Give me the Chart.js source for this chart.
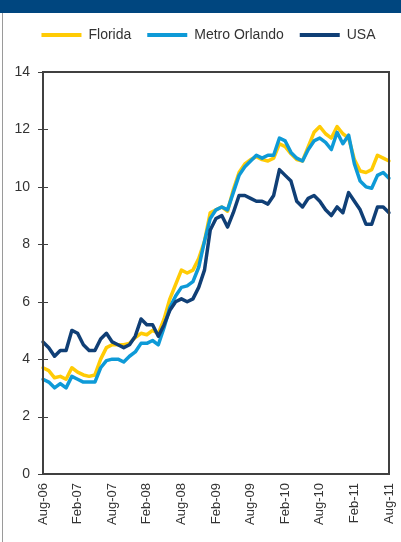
<!DOCTYPE html>
<html>
<head>
<meta charset="utf-8">
<script src="https://cdn.jsdelivr.net/npm/chart.js@4/dist/chart.umd.min.js"></script>
<style>
  body { margin: 0; width: 401px; height: 542px; overflow: hidden; background: #fff; position: relative; }
  #header { position: absolute; left: 0; top: 0; width: 401px; height: 13px; background: #00467f; }
  #edge { position: absolute; left: 2px; top: 13px; width: 1px; height: 529px; background: #9a9a9a; }
  #chart { position: absolute; left: 0; top: 0; }
</style>
</head>
<body>
<div id="header"></div>
<div id="edge"></div>
<canvas id="chart" width="401" height="542"></canvas>
<script>
// months Aug-06 .. Aug-11
const months = [
  'Aug-06','Sep-06','Oct-06','Nov-06','Dec-06',
  'Jan-07','Feb-07','Mar-07','Apr-07','May-07','Jun-07','Jul-07','Aug-07','Sep-07','Oct-07','Nov-07','Dec-07',
  'Jan-08','Feb-08','Mar-08','Apr-08','May-08','Jun-08','Jul-08','Aug-08','Sep-08','Oct-08','Nov-08','Dec-08',
  'Jan-09','Feb-09','Mar-09','Apr-09','May-09','Jun-09','Jul-09','Aug-09','Sep-09','Oct-09','Nov-09','Dec-09',
  'Jan-10','Feb-10','Mar-10','Apr-10','May-10','Jun-10','Jul-10','Aug-10','Sep-10','Oct-10','Nov-10','Dec-10',
  'Jan-11','Feb-11','Mar-11','Apr-11','May-11','Jun-11','Jul-11','Aug-11'
];

const florida = [3.7, 3.6, 3.35, 3.4, 3.3, 3.7, 3.55, 3.45, 3.4, 3.45, 4.0, 4.4,
  4.5, 4.5, 4.5, 4.55, 4.75, 4.9, 4.85, 5.0, 4.9, 5.4, 6.1, 6.6,
  7.1, 7.0, 7.1, 7.5, 8.1, 9.1, 9.2, 9.3, 9.15, 9.9, 10.5, 10.8,
  10.95, 11.05, 10.95, 10.9, 11.0, 11.5, 11.4, 11.15, 10.95, 10.9, 11.4, 11.9,
  12.1, 11.85, 11.7, 12.1, 11.85, 11.7, 10.95, 10.55, 10.5, 10.6, 11.1, 11.0, 10.9];

const orlando = [3.3, 3.2, 3.0, 3.15, 3.0, 3.4, 3.3, 3.2, 3.2, 3.2, 3.7, 3.95,
  4.0, 4.0, 3.9, 4.1, 4.25, 4.55, 4.55, 4.65, 4.5, 5.1, 5.8, 6.2,
  6.5, 6.55, 6.7, 7.2, 8.1, 8.9, 9.2, 9.3, 9.2, 9.8, 10.4, 10.7,
  10.9, 11.1, 11.0, 11.1, 11.1, 11.7, 11.6, 11.2, 11.0, 10.9, 11.3, 11.6,
  11.7, 11.55, 11.3, 11.9, 11.5, 11.8, 10.8, 10.2, 10.0, 9.95, 10.4, 10.5, 10.3];

const usa = [4.6, 4.4, 4.1, 4.3, 4.3, 5.0, 4.9, 4.5, 4.3, 4.3, 4.7, 4.9,
  4.6, 4.5, 4.4, 4.5, 4.8, 5.4, 5.2, 5.2, 4.8, 5.2, 5.7, 6.0,
  6.1, 6.0, 6.1, 6.5, 7.1, 8.5, 8.9, 9.0, 8.6, 9.1, 9.7, 9.7,
  9.6, 9.5, 9.5, 9.4, 9.7, 10.6, 10.4, 10.2, 9.5, 9.3, 9.6, 9.7,
  9.5, 9.2, 9.0, 9.3, 9.1, 9.8, 9.5, 9.2, 8.7, 8.7, 9.3, 9.3, 9.1];

const names = ['Florida', 'Metro Orlando', 'USA'];
const colors = ['#ffcb05', '#0e9ad7', '#103f76'];

const textColor = '#333333';
const axisColor = '#404040';
const fontFamily = '"Liberation Sans", Arial, sans-serif';

// box round plot area plus small crossing ticks on the y axis
const frame = {
  id: 'frame',
  afterDatasetsDraw(chart) {
    const {ctx, chartArea: a, scales: {y}} = chart;
    ctx.save();
    ctx.strokeStyle = axisColor;
    ctx.lineWidth = 2;
    ctx.strokeRect(a.left, a.top, a.right - a.left, a.bottom - a.top);
    ctx.lineWidth = 1;
    y.ticks.forEach(t => {
      const py = Math.round(y.getPixelForValue(t.value)) + 0.5;
      ctx.beginPath();
      ctx.moveTo(a.left - 5, py);
      ctx.lineTo(a.left + 5, py);
      ctx.stroke();
    });
    ctx.restore();
  }
};

// extra room under the legend, and nudge it right like the original
const legendTweak = {
  id: 'legendTweak',
  beforeInit(chart) {
    const fit = chart.legend.fit;
    chart.legend.fit = function () {
      fit.bind(chart.legend)();
      this.height += 20;
    };
  },
  afterLayout(chart) {
    chart.legend.left += 14;
    chart.legend.right += 14;
  }
};

new Chart(document.getElementById('chart'), {
  type: 'line',
  data: {
    labels: months,
    datasets: [
      { label: names[0], data: florida, borderColor: colors[0], backgroundColor: colors[0], order: 3 },
      { label: names[1], data: orlando, borderColor: colors[1], backgroundColor: colors[1], order: 2 },
      { label: names[2], data: usa, borderColor: colors[2], backgroundColor: colors[2], order: 1 }
    ]
  },
  options: {
    responsive: false,
    animation: false,
    events: [],
    elements: {
      line: { borderWidth: 3.5, tension: 0, borderJoinStyle: 'round', borderCapStyle: 'round' },
      point: { radius: 0 }
    },
    layout: { padding: { top: 12, left: 0, right: 12, bottom: 0 } },
    plugins: {
      tooltip: { enabled: false },
      legend: {
        position: 'top',
        labels: {
          boxWidth: 40,
          boxHeight: 4,
          padding: 16,
          color: textColor,
          font: { family: fontFamily, size: 14 },
          generateLabels: chart => chart.data.datasets.map((ds, i) => ({
            text: ds.label,
            fillStyle: ds.borderColor,
            strokeStyle: ds.borderColor,
            lineWidth: 0,
            fontColor: textColor,
            hidden: false,
            datasetIndex: i
          }))
        }
      }
    },
    scales: {
      x: {
        grid: { display: false, drawTicks: false },
        border: { display: false },
        afterFit: s => {
          s.height = 68;
          s.paddingLeft = 0;
          s.paddingRight = 0;
        },
        ticks: {
          autoSkip: false,
          minRotation: 90,
          maxRotation: 90,
          padding: 9,
          color: textColor,
          font: { family: fontFamily, size: 13 },
          callback: (v, i) => (i % 6 === 0 ? months[i] : null)
        }
      },
      y: {
        min: 0,
        max: 14,
        grid: { display: false, drawTicks: false },
        border: { display: false },
        afterFit: s => { s.width = 43; },
        ticks: {
          stepSize: 2,
          padding: 13,
          color: textColor,
          font: { family: fontFamily, size: 14 }
        }
      }
    }
  },
  plugins: [frame, legendTweak]
});
</script>
</body>
</html>
